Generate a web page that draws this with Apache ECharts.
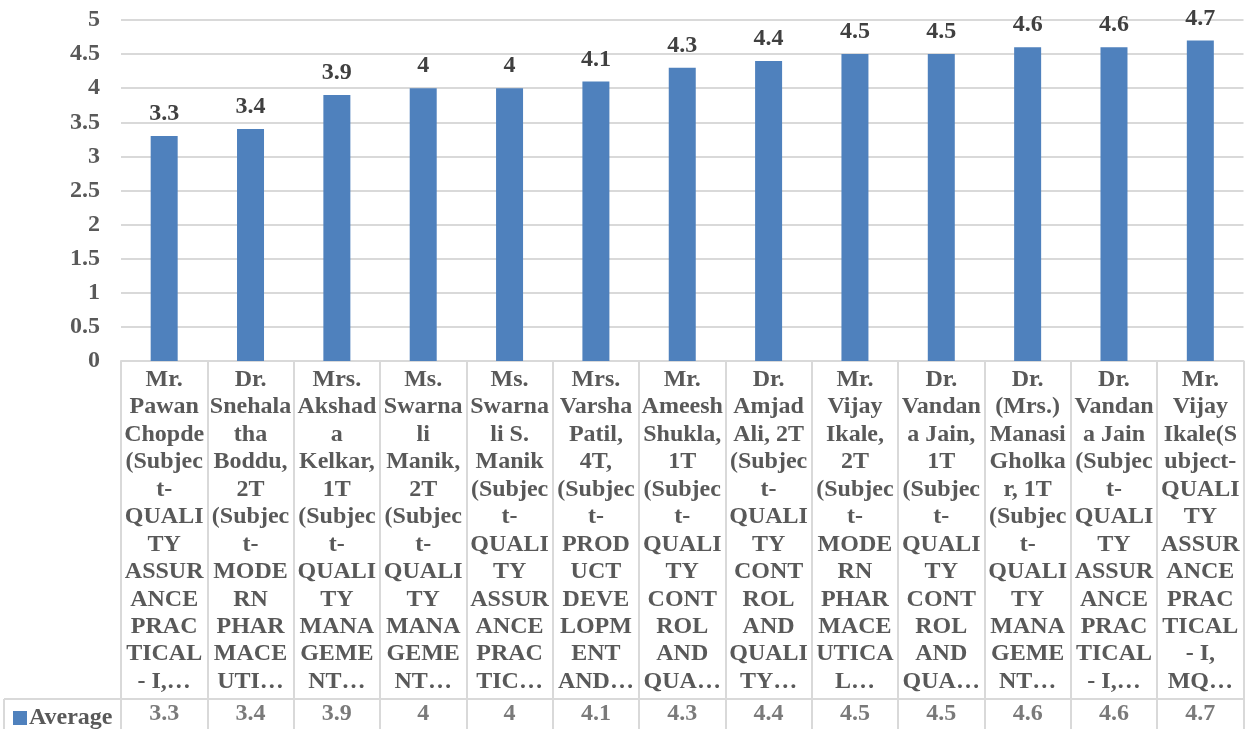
<!DOCTYPE html>
<html>
<head>
<meta charset="utf-8">
<script src="https://cdn.jsdelivr.net/npm/echarts@6/dist/echarts.min.js"></script>
<style>
html,body{margin:0;padding:0;background:#fff;}
#chart{width:1249px;height:729px;}
</style>
</head>
<body>
<div id="chart"></div>
<script>
// Category labels exactly as displayed (wrapped & truncated in the data table)
var categories = [
  "Mr.\nPawan\nChopde\n(Subjec\nt-\nQUALI\nTY\nASSUR\nANCE\nPRAC\nTICAL\n- I,…",
  "Dr.\nSnehala\ntha\nBoddu,\n2T\n(Subjec\nt-\nMODE\nRN\nPHAR\nMACE\nUTI…",
  "Mrs.\nAkshad\na\nKelkar,\n1T\n(Subjec\nt-\nQUALI\nTY\nMANA\nGEME\nNT…",
  "Ms.\nSwarna\nli\nManik,\n2T\n(Subjec\nt-\nQUALI\nTY\nMANA\nGEME\nNT…",
  "Ms.\nSwarna\nli S.\nManik\n(Subjec\nt-\nQUALI\nTY\nASSUR\nANCE\nPRAC\nTIC…",
  "Mrs.\nVarsha\nPatil,\n4T,\n(Subjec\nt-\nPROD\nUCT\nDEVE\nLOPM\nENT\nAND…",
  "Mr.\nAmeesh\nShukla,\n1T\n(Subjec\nt-\nQUALI\nTY\nCONT\nROL\nAND\nQUA…",
  "Dr.\nAmjad\nAli, 2T\n(Subjec\nt-\nQUALI\nTY\nCONT\nROL\nAND\nQUALI\nTY…",
  "Mr.\nVijay\nIkale,\n2T\n(Subjec\nt-\nMODE\nRN\nPHAR\nMACE\nUTICA\nL…",
  "Dr.\nVandan\na Jain,\n1T\n(Subjec\nt-\nQUALI\nTY\nCONT\nROL\nAND\nQUA…",
  "Dr.\n(Mrs.)\nManasi\nGholka\nr, 1T\n(Subjec\nt-\nQUALI\nTY\nMANA\nGEME\nNT…",
  "Dr.\nVandan\na Jain\n(Subjec\nt-\nQUALI\nTY\nASSUR\nANCE\nPRAC\nTICAL\n- I,…",
  "Mr.\nVijay\nIkale(S\nubject-\nQUALI\nTY\nASSUR\nANCE\nPRAC\nTICAL\n- I,\nMQ…"
];
var seriesName = "Average";
var averageValues = [3.3, 3.4, 3.9, 4, 4, 4.1, 4.3, 4.4, 4.5, 4.5, 4.6, 4.6, 4.7];
var yMin = 0, yMax = 5, yInterval = 0.5;

var FONT = "'Liberation Serif', 'Times New Roman', serif";
var FS = 24;
var TXT = "#595959";
var LINE = "#d9d9d9";
var BAR = "#4f81bd";

var chart = echarts.init(document.getElementById('chart'), null, {renderer: 'canvas'});
chart.setOption({
  animation: false,
  backgroundColor: '#ffffff',
  legend: {
    data: [{name: seriesName, icon: 'rect'}],
    left: 8, top: 701,
    itemWidth: 14, itemHeight: 14, itemGap: 4,
    textStyle: {fontFamily: FONT, fontWeight: 'bold', fontSize: FS, color: TXT, padding: [0,0,0,-3]},
    selectedMode: false
  },
  grid: [
    {left: 121, right: 5.5, top: 20, bottom: 368},
    {left: 121, right: 5.5, top: 361, bottom: 30},
    {left: 121, right: 5.5, top: 699, bottom: -3}
  ],
  xAxis: [
    {
      gridIndex: 0, type: 'category', data: categories,
      axisLine: {show: true, onZero: false, lineStyle: {color: LINE, width: 2}},
      axisTick: {show: false},
      axisLabel: {
        interval: 0, margin: 5,
        fontFamily: FONT, fontWeight: 'bold', fontSize: FS, color: TXT,
        lineHeight: 27.45, verticalAlign: 'top', align: 'center'
      }
    },
    {
      gridIndex: 1, type: 'category', data: categories,
      axisLine: {show: true, onZero: false, lineStyle: {color: LINE, width: 2}},
      axisTick: {show: false}, axisLabel: {show: false},
      splitLine: {show: true, interval: 0, lineStyle: {color: LINE, width: 2}}
    },
    {
      gridIndex: 2, type: 'category', data: categories,
      axisLine: {show: false, onZero: false},
      axisTick: {show: false}, axisLabel: {show: false},
      splitLine: {show: true, interval: 0, lineStyle: {color: LINE, width: 2}}
    }
  ],
  yAxis: [
    {
      gridIndex: 0, type: 'value', min: yMin, max: yMax, interval: yInterval,
      axisLine: {show: false}, axisTick: {show: false},
      axisLabel: {margin: 21, fontFamily: FONT, fontWeight: 'bold', fontSize: FS, color: TXT},
      splitLine: {show: true, lineStyle: {color: LINE, width: 2}}
    },
    {gridIndex: 1, type: 'value', show: false, min: -1, max: 1, splitLine: {show: false}},
    {gridIndex: 2, type: 'value', show: false, min: -1, max: 1, splitLine: {show: false}}
  ],
  series: [
    {
      name: seriesName, type: 'bar', xAxisIndex: 0, yAxisIndex: 0,
      data: averageValues, barWidth: 27,
      itemStyle: {color: BAR},
      label: {
        show: true, position: 'top', distance: 10,
        fontFamily: FONT, fontWeight: 'bold', fontSize: FS, color: '#404040'
      }
    },
    {
      name: 'tableRow', type: 'scatter', xAxisIndex: 2, yAxisIndex: 2,
      data: averageValues.map(function (v, i) { return [i, 0, v]; }),
      symbolSize: 0, silent: true,
      label: {
        show: true, position: 'inside',
        formatter: function (p) { return String(p.value[2]); },
        fontFamily: FONT, fontWeight: 'bold', fontSize: FS, color: TXT
      }
    }
  ],
  graphic: [
    {type: 'line', silent: true, shape: {x1: 4, y1: 699, x2: 121, y2: 699}, style: {stroke: LINE, lineWidth: 2}},
    {type: 'line', silent: true, shape: {x1: 4, y1: 699, x2: 4, y2: 740}, style: {stroke: LINE, lineWidth: 2}}
  ]
});
</script>
</body>
</html>
